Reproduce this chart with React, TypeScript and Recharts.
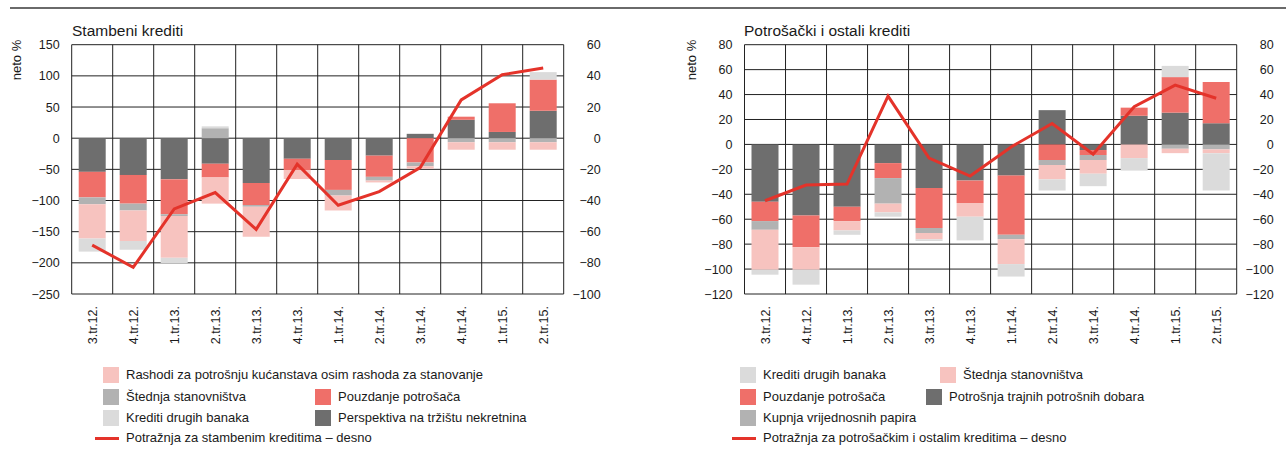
import React from 'react';
import { ComposedChart, Bar, Line, XAxis, YAxis, CartesianGrid } from 'recharts';

const categories = ['3.tr.12.', '4.tr.12.', '1.tr.13.', '2.tr.13.', '3.tr.13.', '4.tr.13.', '1.tr.14.', '2.tr.14.', '3.tr.14.', '4.tr.14.', '1.tr.15.', '2.tr.15.'];

// Stambeni krediti
const stPerspektiva = [-54, -59, -66, -41, -72, -33, -35, -28, 7, 29.5, 10, 44];
const stPouzdanje = [-41, -46, -56, -22, -35, -18, -48, -34, -39, 5, 46, 50];
const stStednja = [-11, -11, -3, 16, -3, 0, -9, -6, -6, -6.5, -6.5, -6.5];
const stRashodi = [-55, -49, -67, -42, -48, -14.5, -24, -3, -4, -12, -12, -12];
const stKrediti = [-21, -14, -8.5, 3, 0, 0, 0, 0, 0, 0, 0, 12];
const stPotraznja = [-68.6, -82.9, -45.4, -34.9, -58.5, -16.7, -43, -34.3, -18.9, 24.6, 40.7, 45];

// Potrošački i ostali krediti
const poTrajna = [-46, -57, -50, -15, -35, -29, -25, 27.5, -4.5, 23, 25.5, 17];
const poPouzdanje = [-15.5, -25.5, -11.5, -12, -32, -18, -47.5, -12.5, -4, 6.5, 28.5, 33];
const poVrijednosni = [-7, 0, 0, -20.5, -4, 0, -3.5, -4, -4, 0, -3.5, -4];
const poStednja = [-32, -18, -7.5, -7, -5, -11, -20, -11.5, -11, -11, -3.5, -3];
const poKrediti = [-4, -12, -3.5, -3.5, -1.5, -19, -10, -9, -10, -10, 9, -30];
const poPotraznja = [-45.2, -32.6, -31.8, 38.7, -11, -25.4, -2, 16.8, -7.8, 30.2, 47.6, 37];

const leftTicksSt = [150, 100, 50, 0, -50, -100, -150, -200, -250];
const rightTicksSt = [60, 40, 20, 0, -20, -40, -60, -80, -100];
const ticksPo = [80, 60, 40, 20, 0, -20, -40, -60, -80, -100, -120];

const C_DARK = '#6e6e6e';
const C_RED = '#ef6f69';
const C_MED = '#b2b2b2';
const C_PINK = '#f7c3bf';
const C_LIGHT = '#dbdbdb';
const C_LINE = '#e4332a';

const FONT = '"Liberation Sans", Arial, Helvetica, sans-serif';
const TXT = '#1a1a1a';

const stData = categories.map((c, i) => ({
  cat: c,
  s1: stPerspektiva[i],
  s2: stPouzdanje[i],
  s3: stStednja[i],
  s4: stRashodi[i],
  s5: stKrediti[i],
  line: stPotraznja[i],
}));

const poData = categories.map((c, i) => ({
  cat: c,
  s1: poTrajna[i],
  s2: poPouzdanje[i],
  s3: poVrijednosni[i],
  s4: poStednja[i],
  s5: poKrediti[i],
  line: poPotraznja[i],
}));

const fmt = (v: number) => (v < 0 ? '\u2212' + Math.abs(v) : String(v));

const CatTick = (props: any) => {
  const { x, payload } = props;
  return (
    <g transform={`translate(${x},${306})`}>
      <text transform="rotate(-90)" textAnchor="end" dy="0.36em" fontSize={12.5} fontFamily={FONT} fill={TXT}>
        {payload.value}
      </text>
    </g>
  );
};

const LeftTick = (props: any) => {
  const { x, y, payload } = props;
  return (
    <text x={x} y={y} dy="0.36em" textAnchor="end" fontSize={12.5} fontFamily={FONT} fill={TXT}>
      {fmt(payload.value)}
    </text>
  );
};

const RightTick = (props: any) => {
  const { x, y, payload } = props;
  return (
    <text x={x + 37} y={y} dy="0.36em" textAnchor="end" fontSize={12.5} fontFamily={FONT} fill={TXT}>
      {fmt(payload.value)}
    </text>
  );
};

const vGen = (arg: any) => {
  const off = arg.offset;
  const pts: number[] = [];
  for (let i = 0; i <= 12; i++) pts.push(off.left + (i * off.width) / 12);
  return pts;
};

type ChartProps = {
  data: any[];
  leftDomain: [number, number];
  leftTicks: number[];
  rightDomain: [number, number];
  rightTicks: number[];
  margin: any;
  width: number;
};

const StackChart = ({ data, leftDomain, leftTicks, rightDomain, rightTicks, margin, width }: ChartProps) => (
  <ComposedChart width={width} height={360} data={data} margin={margin} stackOffset="sign" barSize={27}>
    <CartesianGrid yAxisId="left" stroke="#222" strokeWidth={1} verticalCoordinatesGenerator={vGen} />
    <XAxis dataKey="cat" height={66} interval={0} axisLine={false} tickLine={false} tick={<CatTick />} />
    <YAxis
      yAxisId="left"
      orientation="left"
      width={60}
      domain={leftDomain}
      ticks={leftTicks}
      interval={0}
      axisLine={false}
      tickLine={false}
      tickSize={0}
      tickMargin={12}
      tick={<LeftTick />}
    />
    <YAxis
      yAxisId="right"
      orientation="right"
      width={46}
      domain={rightDomain}
      ticks={rightTicks}
      interval={0}
      axisLine={false}
      tickLine={false}
      tickSize={0}
      tickMargin={0}
      tick={<RightTick />}
    />
    <Bar yAxisId="left" dataKey="s1" stackId="a" fill={C_DARK} isAnimationActive={false} />
    <Bar yAxisId="left" dataKey="s2" stackId="a" fill={C_RED} isAnimationActive={false} />
    <Bar yAxisId="left" dataKey="s3" stackId="a" fill={C_MED} isAnimationActive={false} />
    <Bar yAxisId="left" dataKey="s4" stackId="a" fill={C_PINK} isAnimationActive={false} />
    <Bar yAxisId="left" dataKey="s5" stackId="a" fill={C_LIGHT} isAnimationActive={false} />
    <Line yAxisId="right" dataKey="line" type="linear" stroke={C_LINE} strokeWidth={3} dot={false} activeDot={false} isAnimationActive={false} />
  </ComposedChart>
);

type LegendItem = { kind: 'box' | 'line'; color: string; label: string; x: number; y: number };

const stLegend: LegendItem[] = [
  { kind: 'box', color: C_PINK, label: 'Rashodi za potrošnju kućanstava osim rashoda za stanovanje', x: 103, y: 375 },
  { kind: 'box', color: C_MED, label: 'Štednja stanovništva', x: 103, y: 397 },
  { kind: 'box', color: C_RED, label: 'Pouzdanje potrošača', x: 315, y: 397 },
  { kind: 'box', color: C_LIGHT, label: 'Krediti drugih banaka', x: 103, y: 418 },
  { kind: 'box', color: C_DARK, label: 'Perspektiva na tržištu nekretnina', x: 315, y: 418 },
  { kind: 'line', color: C_LINE, label: 'Potražnja za stambenim kreditima – desno', x: 95, y: 438 },
];

const poLegend: LegendItem[] = [
  { kind: 'box', color: C_LIGHT, label: 'Krediti drugih banaka', x: 740, y: 375 },
  { kind: 'box', color: C_PINK, label: 'Štednja stanovništva', x: 940, y: 375 },
  { kind: 'box', color: C_RED, label: 'Pouzdanje potrošača', x: 740, y: 397 },
  { kind: 'box', color: C_DARK, label: 'Potrošnja trajnih potrošnih dobara', x: 926, y: 397 },
  { kind: 'box', color: C_MED, label: 'Kupnja vrijednosnih papira', x: 740, y: 418 },
  { kind: 'line', color: C_LINE, label: 'Potražnja za potrošačkim i ostalim kreditima – desno', x: 732, y: 438 },
];

const Legend = ({ items }: { items: LegendItem[] }) => (
  <>
    {items.map((it, i) => {
      const swEnd = it.kind === 'box' ? it.x + 16 : it.x + 24;
      return (
        <React.Fragment key={i}>
          {it.kind === 'box' ? (
            <div style={{ position: 'absolute', left: it.x, top: it.y - 8, width: 16, height: 16, background: it.color }} />
          ) : (
            <div style={{ position: 'absolute', left: it.x, top: it.y - 1.5, width: 24, height: 3, background: it.color }} />
          )}
          <div
            style={{
              position: 'absolute',
              left: swEnd + 7,
              top: it.y - 9,
              height: 18,
              lineHeight: '18px',
              fontSize: 13,
              fontFamily: FONT,
              color: TXT,
              whiteSpace: 'nowrap',
            }}
          >
            {it.label}
          </div>
        </React.Fragment>
      );
    })}
  </>
);

const RotLabel = ({ cx, cy, text }: { cx: number; cy: number; text: string }) => (
  <div
    style={{
      position: 'absolute',
      left: cx - 40,
      top: cy - 9,
      width: 80,
      height: 18,
      lineHeight: '18px',
      textAlign: 'center',
      fontSize: 13,
      fontFamily: FONT,
      color: TXT,
      transform: 'rotate(-90deg)',
      whiteSpace: 'nowrap',
    }}
  >
    {text}
  </div>
);

const Title = ({ x, text }: { x: number; text: string }) => (
  <div style={{ position: 'absolute', left: x, top: 21, height: 20, lineHeight: '20px', fontSize: 15.5, fontFamily: FONT, color: TXT, whiteSpace: 'nowrap' }}>
    {text}
  </div>
);

export default function App() {
  return (
    <div style={{ position: 'absolute', left: 0, top: 0, width: 1286, height: 449, background: '#fff', overflow: 'hidden' }}>
      <div style={{ position: 'absolute', left: 10, top: 7, width: 1276, height: 1.5, background: '#6a6a6a' }} />
      <Title x={72} text="Stambeni krediti" />
      <Title x={744} text="Potrošački i ostali krediti" />
      <RotLabel cx={17} cy={60} text="neto %" />
      <RotLabel cx={692} cy={60} text="neto %" />
      <div style={{ position: 'absolute', left: 0, top: 0 }}>
        <StackChart
          data={stData}
          width={620}
          margin={{ top: 44.7, right: 10.3, bottom: 0, left: 11.7 }}
          leftDomain={[-250, 150]}
          leftTicks={leftTicksSt}
          rightDomain={[-100, 60]}
          rightTicks={rightTicksSt}
        />
      </div>
      <div style={{ position: 'absolute', left: 660, top: 0 }}>
        <StackChart
          data={poData}
          width={626}
          margin={{ top: 44.7, right: 3.3, bottom: 0, left: 24.5 }}
          leftDomain={[-120, 80]}
          leftTicks={ticksPo}
          rightDomain={[-120, 80]}
          rightTicks={ticksPo}
        />
      </div>
      <Legend items={stLegend} />
      <Legend items={poLegend} />
    </div>
  );
}
